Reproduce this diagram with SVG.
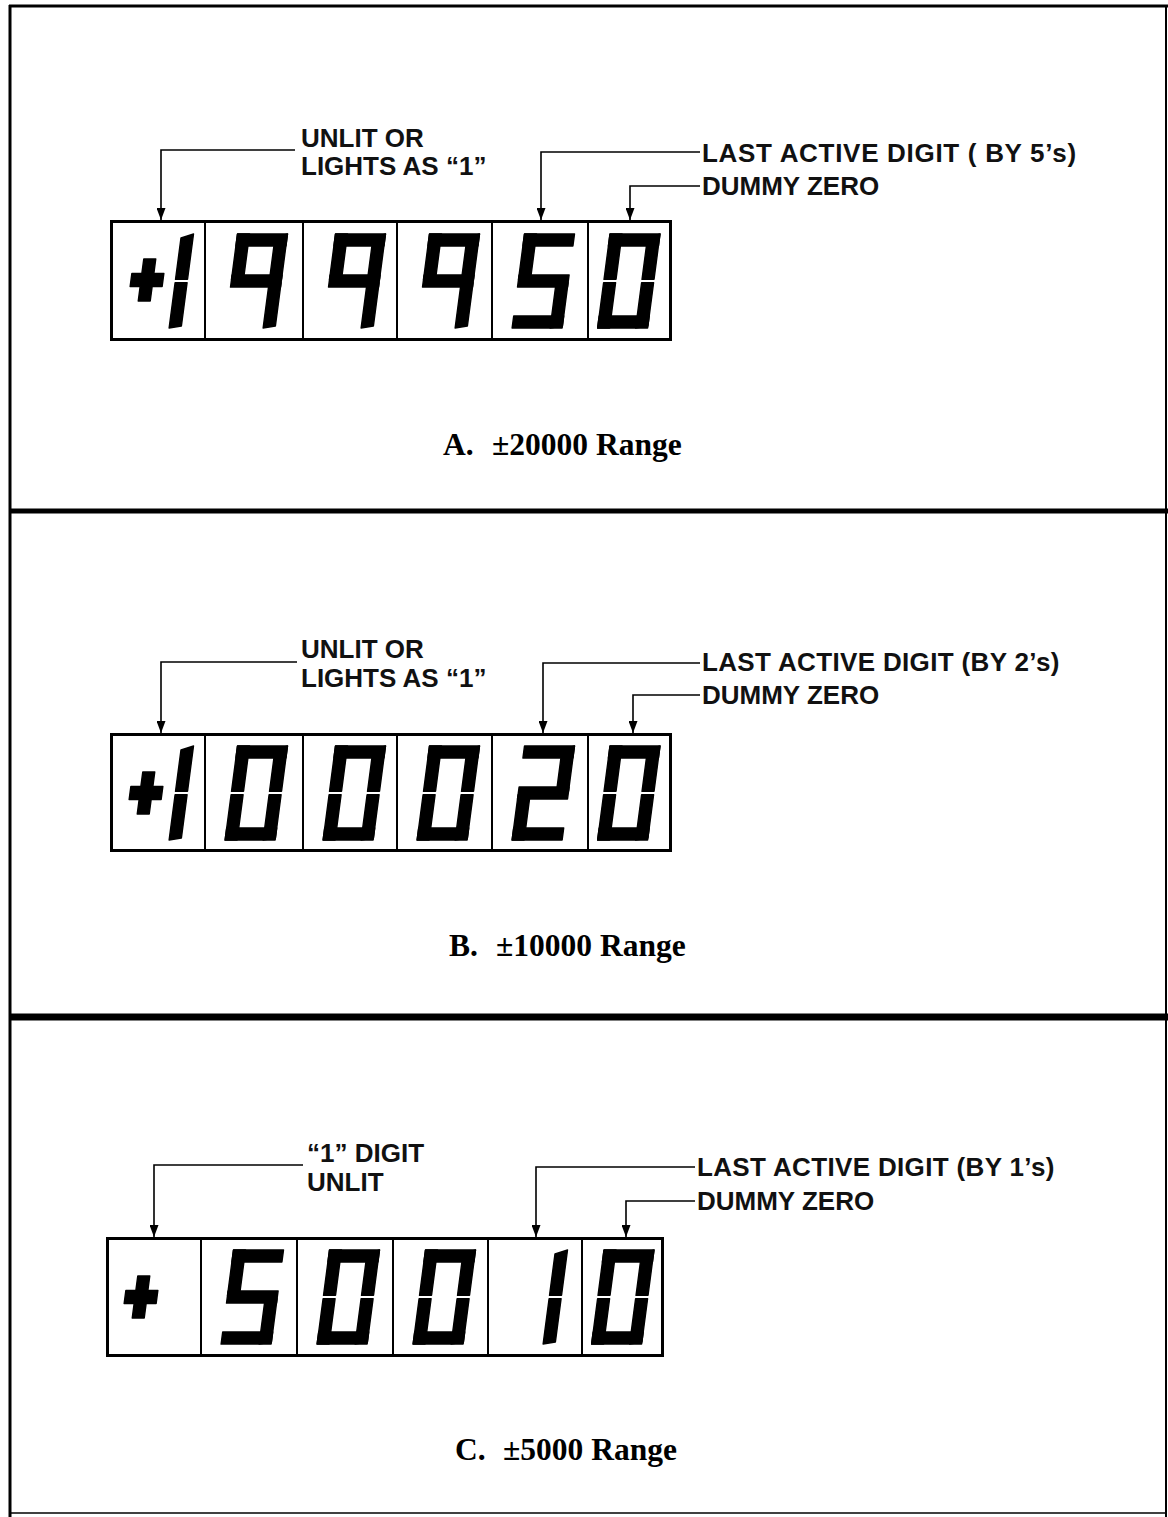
<svg xmlns="http://www.w3.org/2000/svg" xmlns:xlink="http://www.w3.org/1999/xlink" width="1168" height="1517" viewBox="0 0 1168 1517">
<style>
.lbl{font-family:"Liberation Sans",Arial,sans-serif;font-weight:bold;font-size:26px;fill:#111}
.wide{letter-spacing:0.35px}
.wider{letter-spacing:0.7px}
.cap{font-family:"Liberation Serif","Times New Roman",serif;font-weight:bold;font-size:31.5px;fill:#000}
.box{fill:none;stroke:#000;stroke-width:3}
.div{stroke:#000;stroke-width:2}
.con{fill:none;stroke:#000;stroke-width:1.6}
.seg{fill:#000;stroke:#000;stroke-width:1.4;stroke-linejoin:round}
.frame{stroke:#000;fill:none}
</style>
<defs>
<marker id="arr" markerUnits="userSpaceOnUse" markerWidth="12" markerHeight="9" refX="12" refY="4.5" orient="auto">
<path d="M0,0 L12,4.5 L0,9 Z" fill="#000"/>
</marker>
<polygon id="sa" class="seg" points="0,0 50,0 50,12 0,12"/>
<polygon id="sd" class="seg" points="0,82 50,82 50,94 0,94"/>
<polygon id="sf" class="seg" points="0,0 12,0 12,45.3 0,45.3"/>
<polygon id="se" class="seg" points="0,48.7 12,48.7 12,94 0,94"/>
<polygon id="sb" class="seg" points="38,4 50,0 50,45.3 38,45.3"/>
<polygon id="sc" class="seg" points="38,48.7 50,48.7 50,92 38,94"/>
<polygon id="sg" class="seg" points="0,41 50,41 50,53 0,53"/>
<polygon id="plus" class="seg" points="-6,-21 6,-21 6,-6.5 16,-6.5 16,6.5 6,6.5 6,21 -6,21 -6,6.5 -16,6.5 -16,-6.5 -6,-6.5"/>
<g id="d0"><use href="#sa"/><use href="#sb"/><use href="#sc"/><use href="#sd"/><use href="#se"/><use href="#sf"/></g>
<g id="d1"><use href="#sb"/><use href="#sc"/></g>
<g id="d2"><use href="#sa"/><use href="#sb"/><use href="#sg"/><use href="#se"/><use href="#sd"/></g>
<g id="d5"><use href="#sa"/><use href="#sf"/><use href="#sg"/><use href="#sc"/><use href="#sd"/></g>
<g id="d9"><use href="#sa"/><use href="#sb"/><use href="#sc"/><use href="#sf"/><use href="#sg"/></g>
</defs>
<rect width="1168" height="1517" fill="#fff"/>

<g id="frame">
<line class="frame" x1="9" y1="6" x2="1168" y2="6" stroke-width="3"/>
<line class="frame" x1="10" y1="5" x2="10" y2="1517" stroke-width="3"/>
<line class="frame" x1="1166" y1="6" x2="1166" y2="1517" stroke-width="2" stroke="#333"/>
<line class="frame" x1="10" y1="1513" x2="1166" y2="1513" stroke-width="1.5" stroke="#999"/>
<line class="frame" x1="10" y1="511" x2="1168" y2="511" stroke-width="5"/>
<line class="frame" x1="10" y1="1017" x2="1168" y2="1017" stroke-width="7"/>
</g>

<!-- Panel A -->
<g id="display-a" aria-label="+199950">
<rect class="box" x="111.5" y="221.5" width="559" height="118"/>
<line class="div" x1="205" y1="221" x2="205" y2="340"/>
<line class="div" x1="303" y1="221" x2="303" y2="340"/>
<line class="div" x1="397" y1="221" x2="397" y2="340"/>
<line class="div" x1="492" y1="221" x2="492" y2="340"/>
<line class="div" x1="588" y1="221" x2="588" y2="340"/>
<use href="#plus" transform="translate(147,280) skewX(-7.5)"/>
<use href="#d1" transform="translate(143.5,234) skewX(-7.5)"/>
<use href="#d9" transform="translate(237.5,234) skewX(-7.5)"/>
<use href="#d9" transform="translate(335.5,234) skewX(-7.5)"/>
<use href="#d9" transform="translate(429.5,234) skewX(-7.5)"/>
<use href="#d5" transform="translate(524.5,234) skewX(-7.5)"/>
<use href="#d0" transform="translate(610,234) skewX(-7.5)"/>
</g>
<g id="label-a1"><text class="lbl" x="301" y="147">UNLIT OR</text><text class="lbl" x="301" y="175">LIGHTS AS “1”</text></g>
<g id="label-a2"><text class="lbl wider" x="702" y="162">LAST ACTIVE DIGIT ( BY 5’s)</text></g>
<g id="label-a3"><text class="lbl" x="702" y="195">DUMMY ZERO</text></g>
<g id="caption-a"><text class="cap" x="443" y="455">A. <tspan x="492">±20000 Range</tspan></text></g>

<!-- Panel B -->
<g id="display-b" aria-label="+100020">
<rect class="box" x="111.5" y="734.5" width="559" height="116"/>
<line class="div" x1="205" y1="734" x2="205" y2="851"/>
<line class="div" x1="303" y1="734" x2="303" y2="851"/>
<line class="div" x1="397" y1="734" x2="397" y2="851"/>
<line class="div" x1="492" y1="734" x2="492" y2="851"/>
<line class="div" x1="588" y1="734" x2="588" y2="851"/>
<use href="#plus" transform="translate(146,793) skewX(-7.5)"/>
<use href="#d1" transform="translate(143.5,746) skewX(-7.5)"/>
<use href="#d0" transform="translate(237.5,746) skewX(-7.5)"/>
<use href="#d0" transform="translate(335.5,746) skewX(-7.5)"/>
<use href="#d0" transform="translate(429.5,746) skewX(-7.5)"/>
<use href="#d2" transform="translate(524.5,746) skewX(-7.5)"/>
<use href="#d0" transform="translate(610,746) skewX(-7.5)"/>
</g>
<g id="label-b1"><text class="lbl" x="301" y="658">UNLIT OR</text><text class="lbl" x="301" y="687">LIGHTS AS “1”</text></g>
<g id="label-b2"><text class="lbl wide" x="702" y="671">LAST ACTIVE DIGIT (BY 2’s)</text></g>
<g id="label-b3"><text class="lbl" x="702" y="704">DUMMY ZERO</text></g>
<g id="caption-b"><text class="cap" x="449" y="956">B. <tspan x="496">±10000 Range</tspan></text></g>

<!-- Panel C -->
<g id="display-c" aria-label="+ 50010">
<rect class="box" x="107.5" y="1238.5" width="555" height="117"/>
<line class="div" x1="201" y1="1238" x2="201" y2="1356"/>
<line class="div" x1="297" y1="1238" x2="297" y2="1356"/>
<line class="div" x1="393" y1="1238" x2="393" y2="1356"/>
<line class="div" x1="488" y1="1238" x2="488" y2="1356"/>
<line class="div" x1="582" y1="1238" x2="582" y2="1356"/>
<use href="#plus" transform="translate(141,1297) skewX(-7.5)"/>
<use href="#d5" transform="translate(233.5,1250) skewX(-7.5)"/>
<use href="#d0" transform="translate(329.5,1250) skewX(-7.5)"/>
<use href="#d0" transform="translate(425.5,1250) skewX(-7.5)"/>
<use href="#d1" transform="translate(517.5,1250) skewX(-7.5)"/>
<use href="#d0" transform="translate(604,1250) skewX(-7.5)"/>
</g>
<g id="label-c1"><text class="lbl" x="307" y="1162">“1” DIGIT</text><text class="lbl" x="307" y="1191">UNLIT</text></g>
<g id="label-c2"><text class="lbl wide" x="697" y="1176">LAST ACTIVE DIGIT (BY 1’s)</text></g>
<g id="label-c3"><text class="lbl" x="697" y="1210">DUMMY ZERO</text></g>
<g id="caption-c"><text class="cap" x="455" y="1460">C. <tspan x="503">±5000 Range</tspan></text></g>

<g id="connectors">
<polyline class="con" points="295,150 161,150 161,220" marker-end="url(#arr)"/>
<polyline class="con" points="700,152 541,152 541,220" marker-end="url(#arr)"/>
<polyline class="con" points="700,186 630,186 630,220" marker-end="url(#arr)"/>
<polyline class="con" points="297,662 161,662 161,733" marker-end="url(#arr)"/>
<polyline class="con" points="700,663 543,663 543,733" marker-end="url(#arr)"/>
<polyline class="con" points="700,695 633,695 633,733" marker-end="url(#arr)"/>
<polyline class="con" points="303,1165 154,1165 154,1237" marker-end="url(#arr)"/>
<polyline class="con" points="695,1167 536,1167 536,1237" marker-end="url(#arr)"/>
<polyline class="con" points="695,1201 626,1201 626,1237" marker-end="url(#arr)"/>
</g>
</svg>
